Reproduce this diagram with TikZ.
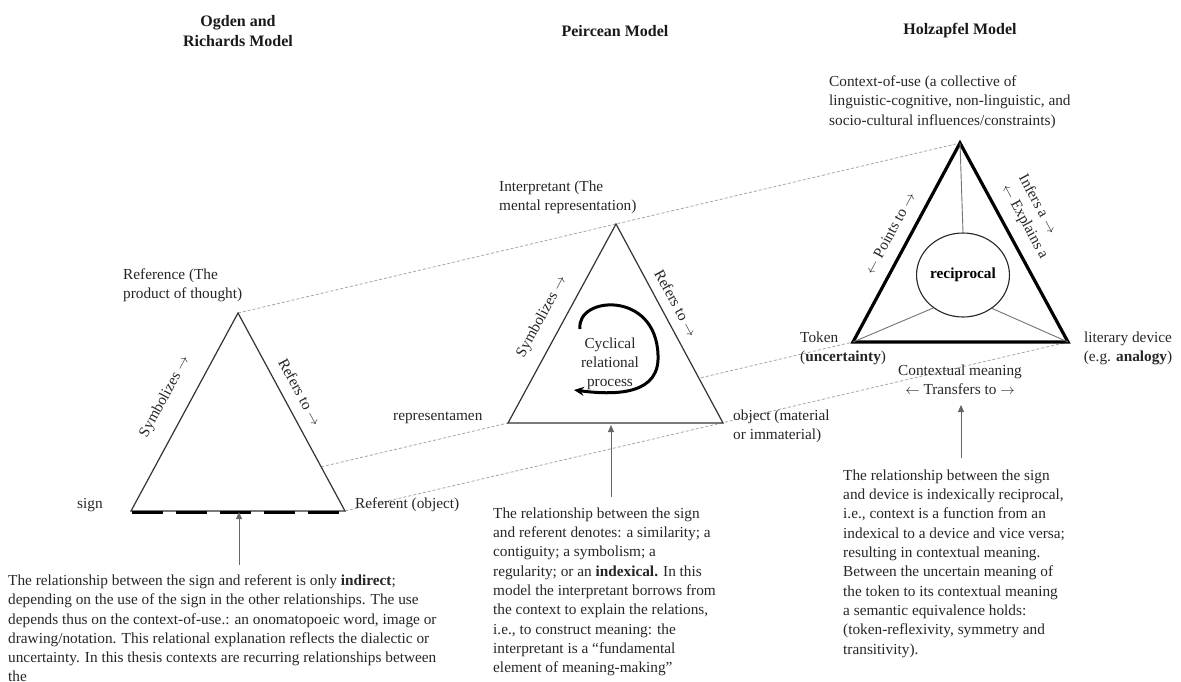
\documentclass[tikz,border=0pt]{standalone}
\usepackage{fontspec}
\setmainfont{Liberation Serif}
\usetikzlibrary{arrows.meta,calc,shapes.geometric}
\newcommand{\ra}{$\rightarrow$}
\newcommand{\la}{$\leftarrow$}

\begin{document}
\begin{tikzpicture}[x=1pt,y=-1pt,
  txt/.style={font=\fontsize{15.3}{19.3}\selectfont, inner sep=0pt, text=black!85},
  lbl/.style={txt, align=left, anchor=north west},
  ttl/.style={txt, font=\fontsize{16}{19.5}\selectfont\bfseries, align=center, text=black!90},
  thin edge/.style={draw=black!80, line width=1.2pt, fill=white, line join=miter},
  heavy edge/.style={draw=black, line width=3.2pt, fill=white, line join=miter},
  guide/.style={draw=black!35, dash pattern=on 3pt off 2pt, line width=0.8pt},
  leader/.style={draw=black!60, line width=0.9pt, -{Triangle[length=7pt,width=6pt]}},
  spoke/.style={draw=black!55, line width=0.9pt},
]
\useasboundingbox (0,0) rectangle (1181,682);

% ---- vertices of the three triangles
\coordinate (oA) at (238,313);
\coordinate (oL) at (131,511);
\coordinate (oR) at (345,511);
\coordinate (pA) at (616,224);
\coordinate (pL) at (508,423);
\coordinate (pR) at (723,423);
\coordinate (hA) at (960,143);
\coordinate (hL) at (853,342);
\coordinate (hR) at (1068,342);
\coordinate (oS) at ($(pL)!-0.5414!(hL)$);

% ---- dashed guides linking corresponding corners
\draw[guide] (oA) -- (hA);
\draw[guide] (oS) -- (hL);
\draw[guide] (oR) -- (hR);

% ---- titles
\node[ttl] (t1) at (238,31) {Ogden and\\Richards Model};
\node[ttl] (t2) at (615,31) {Peircean Model};
\node[ttl] (t3) at (960,31) {Holzapfel Model};

% ================= Ogden and Richards =================
\draw[thin edge] (oA) -- (oR) -- (oL) -- cycle;
\draw[black, line width=2.6pt, dash pattern=on 31pt off 13pt] (132,512.5) -- (341,512.5);
\node[lbl] (oRef) at (123,268.5) {Reference (The\\product of thought)};
\node[txt, anchor=base west] (oSign) at (77,508) {sign};
\node[txt, anchor=base west] (oObj) at (355,508) {Referent (object)};
\node[txt, rotate=61.6] (oSym) at (165,397) {Symbolizes \ra};
\node[txt, rotate=-61.6] (oRefers) at (300,392) {Refers to \ra};
\node[lbl] (oNote) at (8,574.5) {The relationship between the sign and referent is only \textbf{indirect};\\
depending on the use of the sign in the other relationships. The use\\
depends thus on the context-of-use.: an onomatopoeic word, image or\\
drawing/notation. This relational explanation reflects the dialectic or\\
uncertainty. In this thesis contexts are recurring relationships between\\
the};
\coordinate (oFoot) at (239,565);
\coordinate (oTip) at (239,512);
\draw[leader] (oFoot) -- (oTip);

% ================= Peircean =================
\draw[thin edge] (pA) -- (pR) -- (pL) -- cycle;
\node[lbl] (pInt) at (499,180.5) {Interpretant (The\\mental representation)};
\node[txt, anchor=base west] (pRep) at (393,420) {representamen};
\node[lbl] (pObj) at (733,409.5) {object (material\\or immaterial)};
\node[txt, rotate=61.6] (pSym) at (542,317) {Symbolizes \ra};
\node[txt, rotate=-61.6] (pRefers) at (676,303) {Refers to \ra};
\node[txt, align=center, anchor=north] (pCycle) at (610,337.5) {Cyclical\\relational\\process};
\draw[black, line width=3pt, -{Stealth[length=10pt,width=9pt]}]
  (580,329) .. controls (576,296) and (656,290) .. (658,355)
  .. controls (660,393) and (620,396) .. (574,390);
\node[lbl] (pNote) at (493,507.5) {The relationship between the sign\\
and referent denotes: a similarity; a\\
contiguity; a symbolism; a\\
regularity; or an \textbf{indexical.} In this\\
model the interpretant borrows from\\
the context to explain the relations,\\
i.e., to construct meaning: the\\
interpretant is a “fundamental\\
element of meaning-making”};
\coordinate (pFoot) at (611,497);
\coordinate (pTip) at (611,425);
\draw[leader] (pFoot) -- (pTip);

% ================= Holzapfel =================
\draw[heavy edge] (hA) -- (hR) -- (hL) -- cycle;
\node[ellipse, draw=black!85, line width=1.1pt, fill=white, minimum width=74pt,
      minimum height=84pt, inner sep=0pt, font=\fontsize{15.3}{18}\selectfont\bfseries]
      (rc) at (963,275) {reciprocal};
\draw[spoke] (hA) -- (rc.north);
\draw[spoke] (hL) -- (rc.228);
\draw[spoke] (hR) -- (rc.311);
\node[lbl] (hCtx) at (829,75.5) {Context-of-use (a collective of\\
linguistic-cognitive, non-linguistic, and\\
socio-cultural influences/constraints)};
\node[txt, rotate=61.7] (hPts) at (890,233) {\la{} Points to \ra};
\node[txt, rotate=-61.7, align=left] (hInf) at (1033,217) {Infers a \ra\\\la{} Explains a};
\node[lbl] (hTok) at (800,331.5) {Token\\(\textbf{uncertainty})};
\node[txt, align=center, anchor=north] (hDev) at (1128,331.5) {literary device\\(e.g. \textbf{analogy})};
\node[txt, align=center, anchor=north] (hCm) at (960,364.5) {Contextual meaning\\\la{} Transfers to \ra};
\node[lbl] (hNote) at (843,469.5) {The relationship between the sign\\
and device is indexically reciprocal,\\
i.e., context is a function from an\\
indexical to a device and vice versa;\\
resulting in contextual meaning.\\
Between the uncertain meaning of\\
the token to its contextual meaning\\
a semantic equivalence holds:\\
(token-reflexivity, symmetry and\\
transitivity).};
\coordinate (hFoot) at (961,458);
\coordinate (hTip) at (961,405);
\draw[leader] (hFoot) -- (hTip);
\end{tikzpicture}
\end{document}
